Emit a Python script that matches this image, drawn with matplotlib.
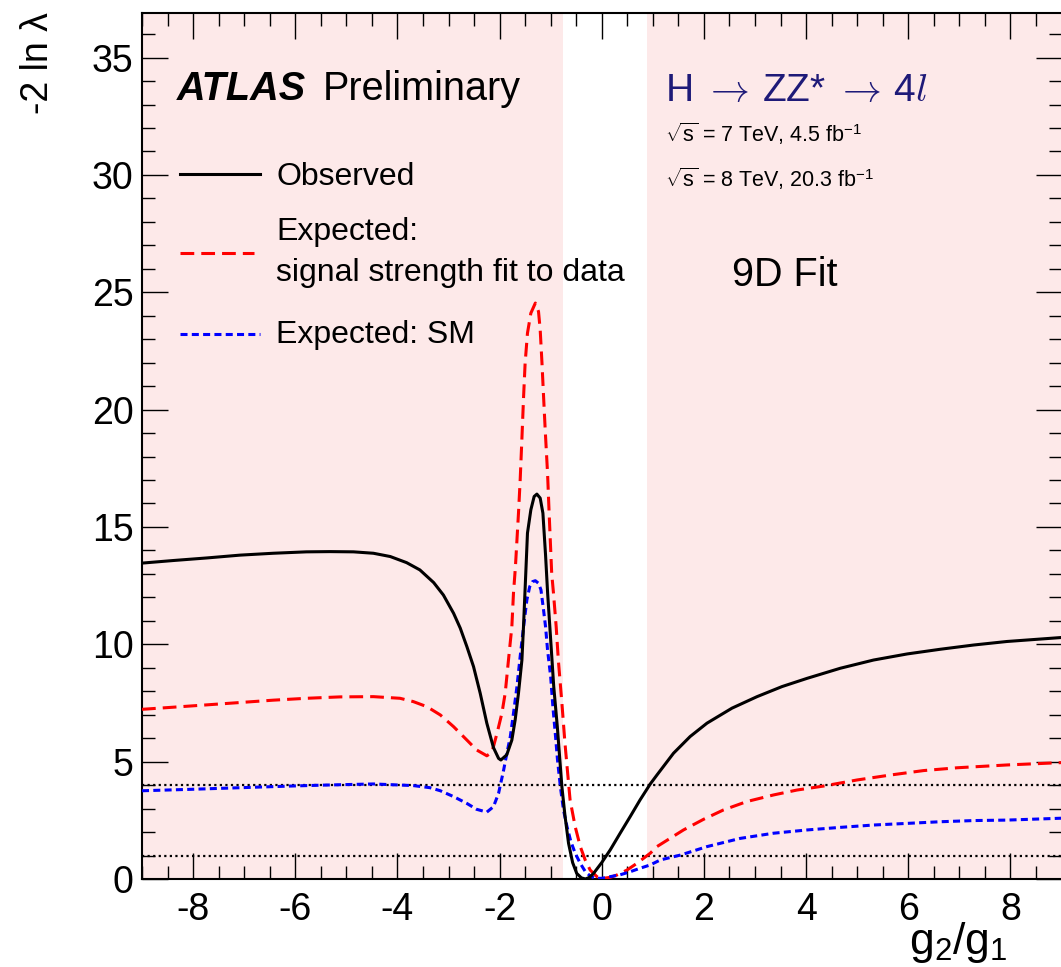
import numpy as np
import matplotlib
matplotlib.use('Agg')
import matplotlib.pyplot as plt
from matplotlib.lines import Line2D
from matplotlib.ticker import MultipleLocator

plt.rcParams['font.family'] = ['Liberation Sans', 'DejaVu Sans']
plt.rcParams['mathtext.fontset'] = 'custom'
plt.rcParams['mathtext.rm'] = 'Liberation Sans'
plt.rcParams['mathtext.it'] = 'Liberation Serif:italic'
plt.rcParams['mathtext.bf'] = 'Liberation Sans:bold'
plt.rcParams['axes.unicode_minus'] = False

# observed -2 ln lambda vs g2/g1
obs_x = [-9.0, -8.39, -7.73, -7.08, -6.43, -5.78, -5.32, -4.86, -4.47, -4.14, -3.82, -3.56,
         -3.29, -3.10, -2.90, -2.77, -2.64, -2.51, -2.38, -2.25, -2.12, -2.02, -1.975, -1.86,
         -1.76, -1.695, -1.63, -1.563, -1.532, -1.49, -1.454, -1.388, -1.323, -1.27, -1.205,
         -1.152, -1.10, -1.06, -1.0, -0.94, -0.87, -0.78, -0.72, -0.65, -0.57, -0.49, -0.40,
         -0.32, -0.24, -0.16, 0.0, 0.166, 0.36, 0.557, 0.75, 0.95, 1.08, 1.405, 1.73, 2.06,
         2.55, 3.04, 3.53, 4.02, 4.67, 5.32, 5.98, 6.63, 7.28, 7.93, 9.0]
obs_y = [13.46, 13.57, 13.68, 13.80, 13.88, 13.94, 13.95, 13.94, 13.88, 13.74, 13.48, 13.17,
         12.63, 12.1, 11.32, 10.69, 9.9, 9.05, 7.92, 6.64, 5.6, 5.14, 5.07, 5.29,
         5.92, 6.78, 7.92, 9.33, 10.75, 12.89, 14.74, 15.73, 16.3, 16.4, 16.23,
         15.59, 13.8, 12.2, 10.2, 8.2, 6.49, 3.93, 2.7, 1.52, 0.7, 0.24, 0.05,
         0.0, 0.07, 0.24, 0.7, 1.24, 1.95, 2.66, 3.37, 4.05, 4.43, 5.36, 6.07, 6.64,
         7.28, 7.77, 8.2, 8.55, 8.98, 9.33, 9.59, 9.79, 9.97, 10.12, 10.29]

# expected, signal strength fitted to data
fit_x = [-9.0, -8.39, -7.73, -7.08, -6.43, -5.78, -5.12, -4.47, -3.95, -3.69, -3.42, -3.16,
         -2.90, -2.64, -2.45, -2.25, -2.15, -2.05, -1.955, -1.89, -1.826, -1.76, -1.728,
         -1.69, -1.63, -1.597, -1.564, -1.53, -1.50, -1.454, -1.388, -1.3, -1.238, -1.205,
         -1.17, -1.139, -1.107, -1.061, -1.03, -0.98, -0.945, -0.892, -0.85, -0.78, -0.72,
         -0.62, -0.52, -0.42, -0.324, -0.226, -0.095, 0.0, 0.166, 0.297, 0.493, 0.69, 0.95,
         1.08, 1.6, 1.99, 2.38, 2.84, 3.36, 3.82, 4.34, 5.0, 5.65, 6.3, 6.96, 7.94, 9.0]
fit_y = [7.23, 7.32, 7.42, 7.52, 7.62, 7.70, 7.76, 7.77, 7.70, 7.56, 7.34, 6.99,
         6.49, 5.92, 5.5, 5.25, 5.4, 6.21, 7.06, 7.92, 9.33, 10.75, 12.18,
         13.3, 15.59, 17.0, 18.71, 20.56, 21.98, 23.26, 24.11, 24.54, 24.18, 23.4,
         21.98, 20.56, 19.14, 17.29, 15.59, 13.03, 12.18, 10.75, 9.33, 7.49, 5.78,
         3.37, 2.23, 1.38, 0.81, 0.38, 0.1, 0.02, 0.07, 0.17, 0.38, 0.67, 1.1,
         1.38, 2.09, 2.54, 2.94, 3.3, 3.58, 3.79, 3.96, 4.22, 4.43, 4.62, 4.74, 4.86, 4.96]

# expected, SM
sm_x = [-9.0, -8.06, -7.08, -6.1, -5.45, -4.47, -3.69, -3.36, -3.16, -2.90, -2.64, -2.45,
        -2.25, -2.12, -2.02, -1.92, -1.857, -1.79, -1.728, -1.66, -1.597, -1.53, -1.466,
        -1.41, -1.356, -1.3, -1.238, -1.19, -1.14, -1.1, -1.061, -1.0, -0.957, -0.91,
        -0.866, -0.81, -0.749, -0.68, -0.604, -0.52, -0.422, -0.32, -0.226, -0.13, 0.0,
        0.166, 0.362, 0.557, 0.753, 0.95, 1.145, 1.54, 2.06, 2.71, 3.36, 4.02, 4.67, 5.32,
        5.98, 6.63, 7.28, 7.93, 9.0]
sm_y = [3.76, 3.82, 3.89, 3.96, 4.0, 4.05, 3.98, 3.89, 3.76, 3.51, 3.22, 2.97,
        2.85, 3.08, 3.65, 4.65, 5.36, 6.07, 7.06, 8.2, 9.48, 10.75, 11.89,
        12.46, 12.67, 12.71, 12.6, 12.32, 11.47, 10.75, 9.76, 8.62, 7.35, 6.21,
        5.07, 3.93, 2.94, 2.23, 1.59, 1.1, 0.67, 0.31, 0.13, 0.03, 0.03,
        0.1, 0.18, 0.31, 0.46, 0.6, 0.81, 1.02, 1.38, 1.73, 1.95, 2.09, 2.2, 2.3,
        2.37, 2.44, 2.49, 2.51, 2.59]

cl_levels = [1, 4]
excl_lo, excl_hi = -0.75, 0.88
xmin, xmax = -9, 9
ymax = 36.9

W, H = 1061, 967
fig = plt.figure(figsize=(W/100, H/100), dpi=100)
ax = fig.add_axes([142/W, 88/H, 919.5/W, 866/H])

pink = '#fde9e9'
ax.axvspan(xmin, excl_lo, color=pink, lw=0, zorder=0)
ax.axvspan(excl_hi, xmax, color=pink, lw=0, zorder=0)

for lv in cl_levels:
    ax.axhline(lv, color='black', lw=1.6, ls=(0, (1, 1.5)), zorder=2)

red_ls = (0, (4.5, 2.3))
blue_ls = (0, (2.3, 1.4))
ax.plot(obs_x, obs_y, color='black', lw=2.2, zorder=4, solid_joinstyle='round')
ax.plot(fit_x, fit_y, color='#ff0000', lw=2.2, ls=red_ls, zorder=3)
ax.plot(sm_x, sm_y, color='#0000ff', lw=2.2, ls=blue_ls, zorder=3)

ax.set_xlim(xmin, xmax)
ax.set_ylim(0, ymax)
ax.xaxis.set_major_locator(MultipleLocator(2))
ax.xaxis.set_minor_locator(MultipleLocator(0.5))
ax.yaxis.set_major_locator(MultipleLocator(5))
ax.yaxis.set_minor_locator(MultipleLocator(1))
ax.tick_params(which='both', direction='in', top=True, right=True, width=1, labelsize=27)
ax.tick_params(which='major', length=19)
ax.tick_params(which='minor', length=9.5)
ax.tick_params(axis='x', pad=9)
ax.tick_params(axis='y', pad=6)
for s in ['left', 'bottom', 'top']:
    ax.spines[s].set_linewidth(1.5)
ax.spines['right'].set_visible(False)

def px(x, y):
    return x / W, 1 - y / H

fig.text(*px(38, 12), '-2 ln λ', rotation=90, ha='center', va='top', fontsize=27)
fig.text(*px(1008, 965), r'g$_{\mathregular{2}}$/g$_{\mathregular{1}}$', ha='right', va='bottom', fontsize=32)

fig.text(*px(177, 100), 'ATLAS', fontsize=28.5, fontweight='bold', fontstyle='italic', va='baseline')
fig.text(*px(323, 100), 'Preliminary', fontsize=28.5, va='baseline')

navy = '#1e1a78'
fig.text(*px(665, 101), r'H $\rightarrow\,$ZZ* $\rightarrow\,$4$\mathit{l}$', fontsize=28, color=navy,
         va='baseline', math_fontfamily='cm')
fig.text(*px(665, 142), r'$\sqrt{\mathrm{s}}$ = 7 TeV, 4.5 fb$^{\mathrm{-1}}$', fontsize=15.5, va='baseline')
fig.text(*px(665, 187), r'$\sqrt{\mathrm{s}}$ = 8 TeV, 20.3 fb$^{\mathrm{-1}}$', fontsize=15.5, va='baseline')
fig.text(*px(732, 286), '9D Fit', fontsize=28.5, va='baseline')

# legend: key lines and labels
keys = [(174, 'black', '-', 260), (253, '#ff0000', red_ls, 254), (334, '#0000ff', blue_ls, 260)]
for ky, kc, kls, kend in keys:
    x0, y0 = px(180, ky)
    x1, _ = px(kend, ky)
    fig.add_artist(Line2D([x0, x1], [y0, y0], transform=fig.transFigure, color=kc, lw=2.2, ls=kls))
leg_labels = [(185, 'Observed'), (240, 'Expected:'), (281, 'signal strength fit to data'), (343, 'Expected: SM')]
for ly, lt in leg_labels:
    fig.text(*px(276, ly), lt, fontsize=23, va='baseline')

fig.savefig('out.png', dpi=100)
